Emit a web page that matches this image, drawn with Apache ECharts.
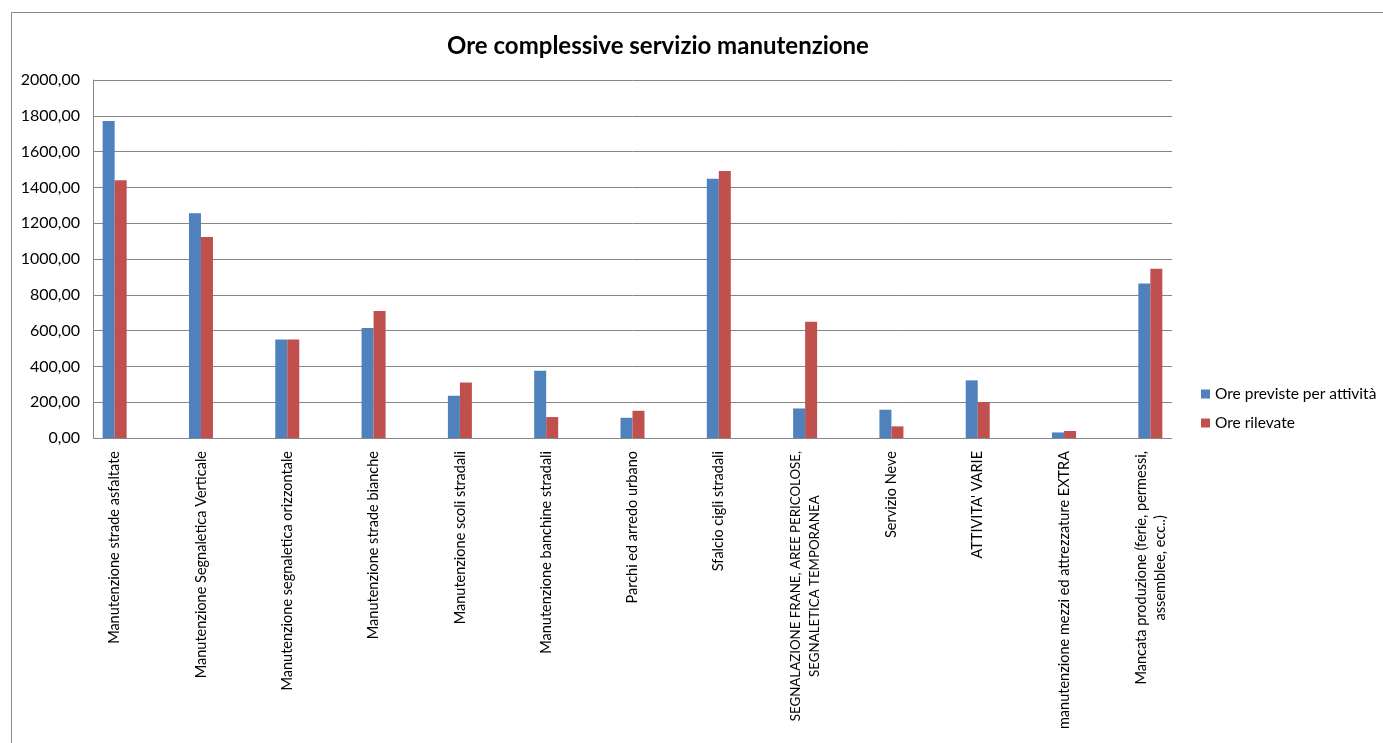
<!DOCTYPE html>
<html>
<head>
<meta charset="utf-8">
<script src="https://cdn.jsdelivr.net/npm/echarts@6/dist/echarts.min.js"></script>
<style>
  html, body { margin: 0; padding: 0; background: #fff; }
  #chart { width: 1383px; height: 743px; }
</style>
</head>
<body>
<div id="chart"></div>
<script>
var categories = [
  'Manutenzione strade asfaltate',
  'Manutenzione Segnaletica Verticale',
  'Manutenzione segnaletica orizzontale',
  'Manutenzione strade bianche',
  'Manutenzione scoli stradali',
  'Manutenzione banchine stradali',
  'Parchi ed arredo urbano',
  'Sfalcio cigli stradali',
  'SEGNALAZIONE FRANE, AREE PERICOLOSE,\nSEGNALETICA TEMPORANEA',
  'Servizio Neve',
  "ATTIVITA' VARIE",
  'manutenzione mezzi ed attrezzature EXTRA',
  'Mancata produzione (ferie, permessi,\nassemblee, ecc..)'
];
var orePreviste = [1771, 1256, 550, 615, 236, 376, 113, 1449, 165, 158, 322, 31, 863];
var oreRilevate = [1440, 1123, 550, 709, 310, 117, 152, 1492, 649, 65, 201, 39, 945];
var yMin = 0, yMax = 2000, yStep = 200;

var dom = document.getElementById('chart');
var myChart = echarts.init(dom);
var font = 'Lato';

var option = {
  backgroundColor: '#fff',
  animation: false,
  title: {
    text: 'Ore complessive servizio manutenzione',
    left: 653, top: 29, textAlign: 'center',
    textStyle: { fontFamily: font, fontWeight: 'bold', fontSize: 24, color: '#000' }
  },
  graphic: [{
    type: 'rect', silent: true,
    shape: { x: 11.5, y: 12.5, width: 1500, height: 900 },
    style: { fill: 'none', stroke: '#888', lineWidth: 1 }
  }],
  legend: {
    orient: 'vertical', left: 1196, top: 381,
    itemWidth: 9, itemHeight: 9, itemGap: 13, icon: 'rect',
    textStyle: { fontFamily: font, fontSize: 15.5, color: '#000' }
  },
  // grid 0: gridlines + y labels, grid 1: bars + category labels
  grid: [
    { left: 93, top: 80, width: 1079, height: 358, outerBoundsMode: 'none' },
    { left: 71.5, top: 80, width: 1122, height: 358, outerBoundsMode: 'none' }
  ],
  xAxis: [{
    gridIndex: 0, type: 'value', min: 0, max: 1, show: false
  }, {
    gridIndex: 1, type: 'category', data: categories,
    axisLine: { show: false }, axisTick: { show: false },
    axisLabel: {
      interval: 0, rotate: 90, margin: 13,
      fontFamily: font, fontSize: 14.5, color: '#000',
      formatter: function (v) {
        return v.split('\n').map(function (l) {
          // long all-caps lines: Lato caps are wider than the original font
          var caps = l === l.toUpperCase() && l.length > 16;
          return '{' + (caps ? 'u' : 'c') + '|' + l + '}';
        }).join('\n');
      },
      rich: {
        c: { align: 'center', fontFamily: font, fontSize: 14.5, color: '#000', lineHeight: 19 },
        u: { align: 'center', fontFamily: font, fontSize: 13.3, color: '#000', lineHeight: 19 }
      }
    }
  }],
  yAxis: [{
    gridIndex: 0, type: 'value', min: yMin, max: yMax, interval: yStep,
    axisLine: { show: true, lineStyle: { color: '#868686' } },
    axisTick: { show: false },
    axisLabel: {
      margin: 13, fontFamily: font, fontSize: 16, color: '#000',
      formatter: function (v) { return v.toFixed(2).replace('.', ','); }
    },
    splitLine: { lineStyle: { color: '#868686', width: 1 } }
  }, {
    gridIndex: 1, type: 'value', min: yMin, max: yMax, interval: yStep, show: false
  }],
  series: [{
    name: 'Ore previste per attività', type: 'bar',
    xAxisIndex: 1, yAxisIndex: 1,
    barWidth: 12, barGap: '0%',
    itemStyle: { color: '#4F81BD' },
    data: orePreviste
  }, {
    name: 'Ore rilevate', type: 'bar',
    xAxisIndex: 1, yAxisIndex: 1,
    barWidth: 12, barGap: '0%',
    itemStyle: { color: '#C0504D' },
    data: oreRilevate
  }]
};
myChart.setOption(option);
</script>
</body>
</html>
